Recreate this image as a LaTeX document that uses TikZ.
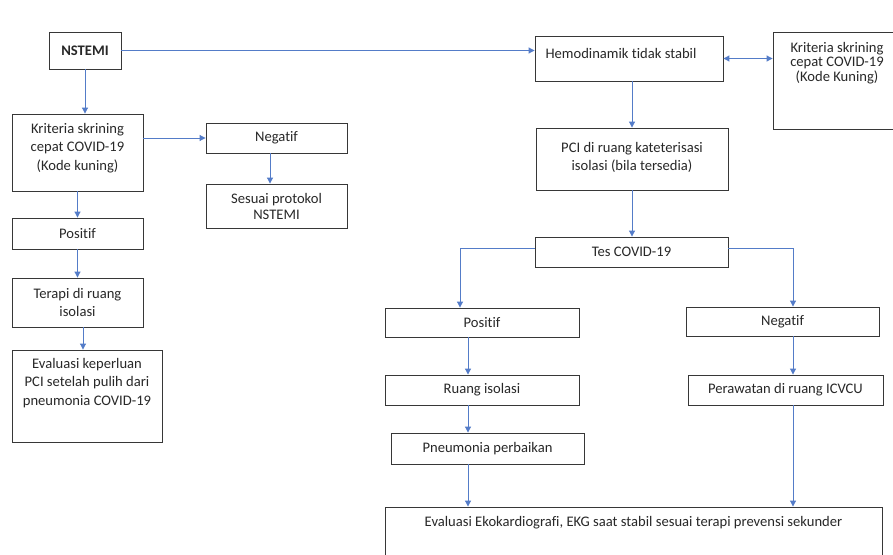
\documentclass[tikz,border=0pt]{standalone}
\usepackage{fontspec}
\setmainfont{Carlito}[Ligatures=NoCommon]
\usetikzlibrary{arrows.meta}
\definecolor{arr}{RGB}{84,124,200}
\definecolor{bord}{RGB}{55,55,55}
\definecolor{txt}{RGB}{40,40,40}
% raised, zero-width paragraph: #1 vertical shift, #2 width, #3 text
\newcommand\bx[3]{\raisebox{#1}[\height][\depth]{\makebox[0pt]{\parbox{#2}{\centering #3}}}}
\begin{document}
\begin{tikzpicture}[x=1pt,y=-1pt,
  box/.style={draw=bord, line width=0.9pt, inner sep=0pt, align=center, text=txt,
    font=\fontsize{14.6}{18.3}\selectfont},
  conn/.style={draw=arr, line width=1pt, -{Triangle[length=6pt,width=6pt]}},
  biconn/.style={draw=arr, line width=1pt, {Triangle[length=6pt,width=6pt]}-{Triangle[length=6pt,width=6pt]}},
]
\useasboundingbox (0,0) rectangle (893,554);
\clip (0,0) rectangle (893,554);
\fill[white] (0,0) rectangle (893,554);

% left column
\node[box, minimum width=72, minimum height=37] (nstemi) at (85,50.5) {\textbf{NSTEMI}};
\node[box, minimum width=131, minimum height=77] (krit1) at (77.5,152.5)
  {\bx{4.5pt}{130pt}{Kriteria skrining\\cepat COVID-19\\(Kode kuning)}};
\node[box, minimum width=141, minimum height=30] (neg1) at (276.5,138) {Negatif};
\node[box, minimum width=141, minimum height=44, font=\fontsize{14.6}{16}\selectfont] (sesuai) at (276.5,206)
  {Sesuai protokol\\NSTEMI};
\node[box, minimum width=131, minimum height=31] (pos1) at (77.5,233.5) {Positif};
\node[box, minimum width=131, minimum height=49, font=\fontsize{14.6}{17.7}\selectfont] (terapi) at (77.5,302.5)
  {Terapi di ruang\\isolasi};
\node[box, minimum width=150, minimum height=92] (eval1) at (87,396)
  {\bx{13pt}{150pt}{Evaluasi keperluan\\PCI setelah pulih dari\\pneumonia COVID-19}};

% right part
\node[box, minimum width=188, minimum height=45] (hemo) at (629,58.5)
  {\bx{5.5pt}{188pt}{\hspace*{-16pt}Hemodinamik tidak stabil}};
\node[box, minimum width=128, minimum height=97, font=\fontsize{14.6}{14.6}\selectfont] (krit2) at (837,80.5)
  {\bx{17.5pt}{128pt}{Kriteria skrining\\cepat COVID-19\\(Kode Kuning)}};
\node[box, minimum width=192, minimum height=62] (pci) at (632,159)
  {\bx{1.5pt}{192pt}{PCI di ruang kateterisasi\\isolasi (bila tersedia)}};
\node[box, minimum width=193, minimum height=30] (tes) at (631.5,252) {Tes COVID-19};
\node[box, minimum width=194, minimum height=29] (pos2) at (482,322.5) {Positif};
\node[box, minimum width=193, minimum height=29] (neg2) at (782.5,321.5) {Negatif};
\node[box, minimum width=194, minimum height=30] (ruang) at (482,390) {Ruang isolasi};
\node[box, minimum width=195, minimum height=30] (rawat) at (785.5,390) {Perawatan di ruang ICVCU};
\node[box, minimum width=193, minimum height=31] (pneu) at (487.5,448.5) {Pneumonia perbaikan};
\node[box, minimum width=497, minimum height=63] (eval2) at (633.5,538.5)
  {\bx{15.5pt}{490pt}{Evaluasi Ekokardiografi, EKG saat stabil sesuai terapi prevensi sekunder}};

% helper x positions
\coordinate (c1) at (270,0);
\coordinate (c2) at (83,0);
\coordinate (c3) at (460,0);
\coordinate (lx) at (468,0);
\coordinate (rx) at (793,0);

% connectors
\draw[conn] (nstemi.east) -- (nstemi.east -| hemo.west);
\draw[biconn] (hemo.east) -- (hemo.east -| krit2.west);
\draw[conn] (nstemi.south) -- (nstemi.south |- krit1.north);
\draw[conn] (krit1.east |- neg1.west) -- (neg1.west);
\draw[conn] (neg1.south -| c1) -- (sesuai.north -| c1);
\draw[conn] (krit1.south) -- (pos1.north);
\draw[conn] (pos1.south) -- (terapi.north);
\draw[conn] (terapi.south -| c2) -- (eval1.north -| c2);
\draw[conn] (hemo.south -| pci.north) -- (pci.north);
\draw[conn] (pci.south) -- (pci.south |- tes.north);
\draw[conn] ([yshift=4pt]tes.west) -| (pos2.north -| c3);
\draw[conn] ([yshift=4pt]tes.east) -| (neg2.north -| rx);
\draw[conn] (pos2.south -| lx) -- (ruang.north -| lx);
\draw[conn] (ruang.south -| lx) -- (pneu.north -| lx);
\draw[conn] (pneu.south -| lx) -- (eval2.north -| lx);
\draw[conn] (neg2.south -| rx) -- (rawat.north -| rx);
\draw[conn] (rawat.south -| rx) -- (eval2.north -| rx);
\end{tikzpicture}
\end{document}
